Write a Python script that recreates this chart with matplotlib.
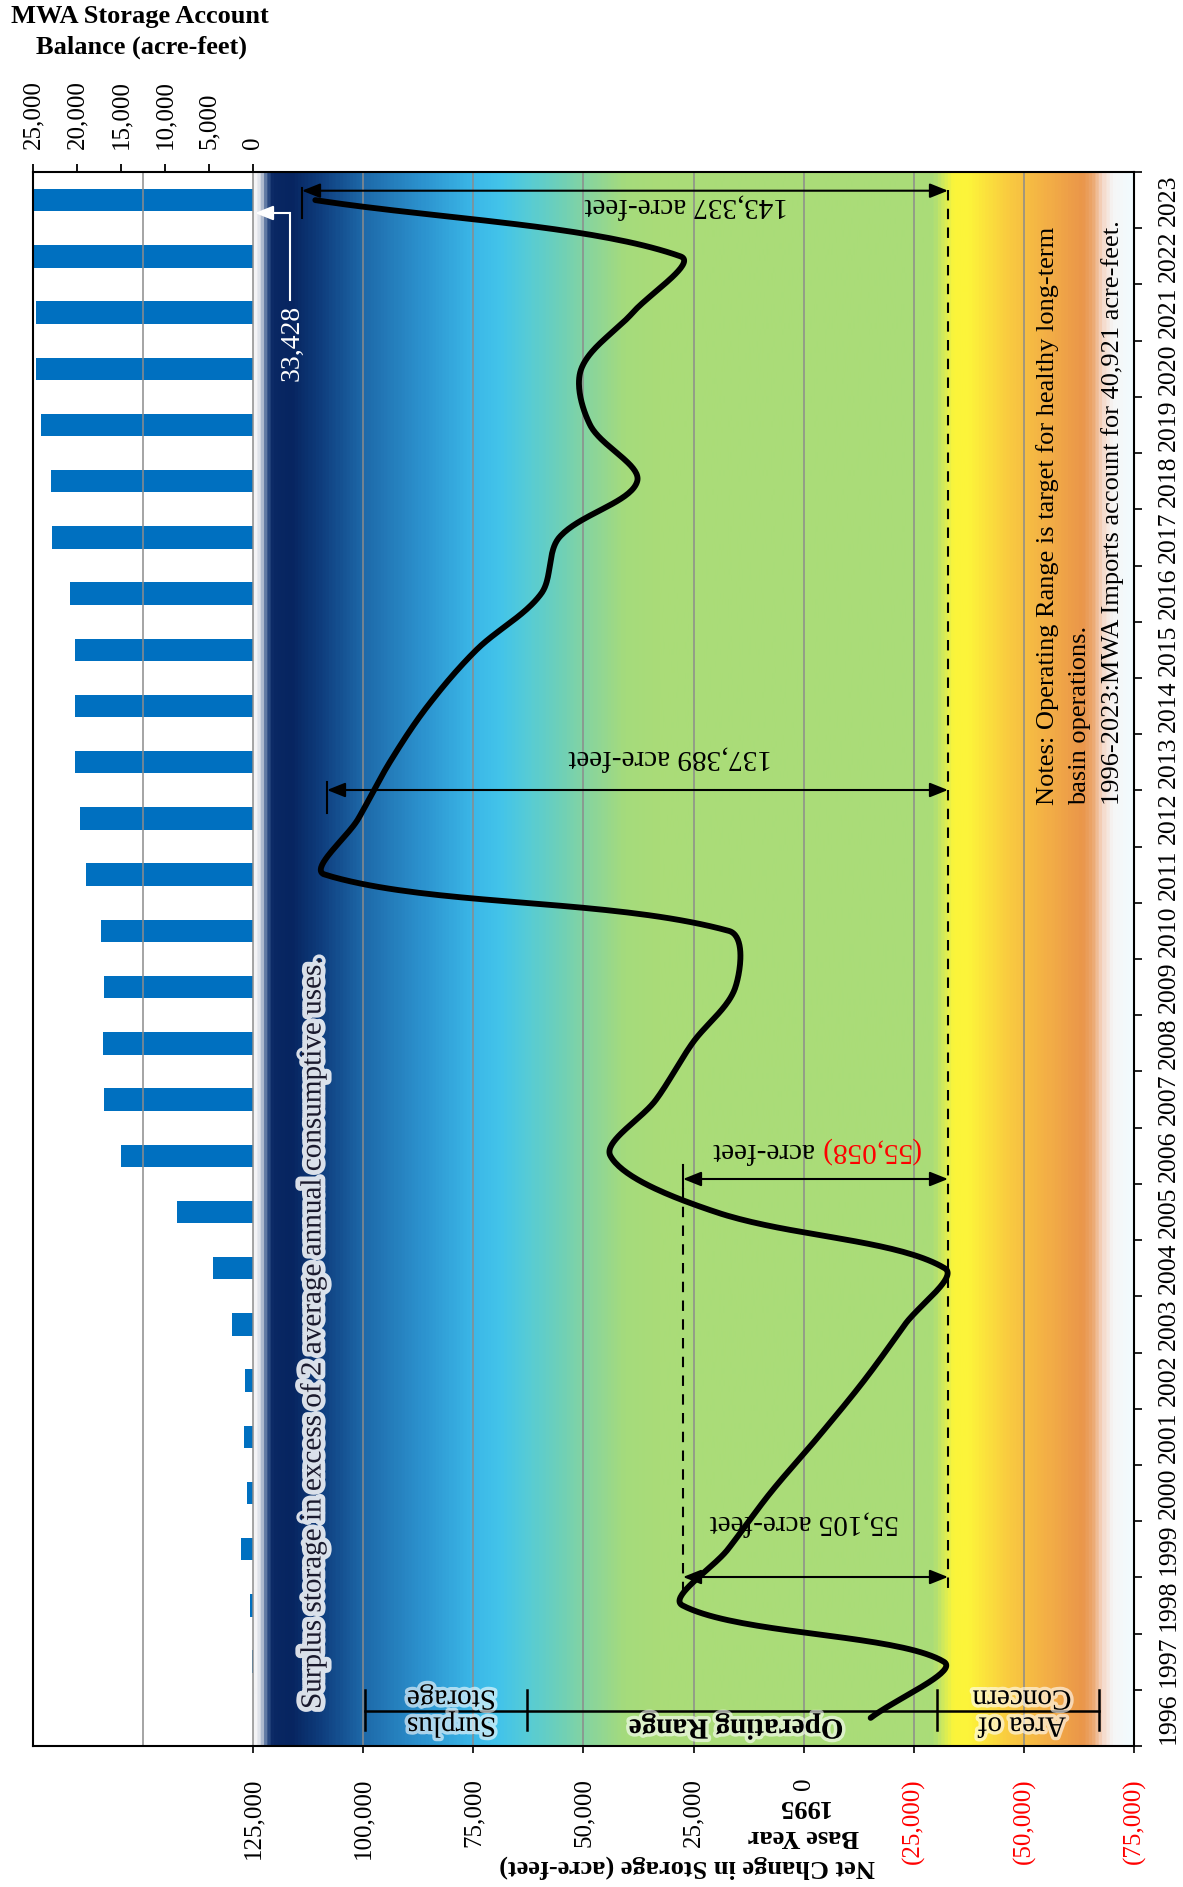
import numpy as np
import matplotlib
matplotlib.use('Agg')
import matplotlib.pyplot as plt
from matplotlib.colors import LinearSegmentedColormap
import matplotlib.patheffects as pe
from matplotlib.patches import FancyArrowPatch

plt.rcParams['font.family'] = ['Liberation Serif', 'DejaVu Serif']

# ---------------- data ----------------
years = list(range(1996, 2024))
net_change = [-15200, -31800, 27500, 17200, 7600, -3300, -13700, -23000, -32000,
              20000, 43900, 33500, 25300, 15500, 17000, 108700, 101100, 94000,
              85400, 74300, 59600, 55500, 37800, 48500, 50500, 38800, 28000, 110900]
account_balance = [0, 75, 300, 1330, 640, 985, 910, 2420, 4580, 8640, 15000, 16890,
                   17010, 16970, 17310, 19020, 19620, 20190, 20190, 20190, 20830,
                   22800, 22920, 24130, 24620, 24620, 28000, 33428]
net_ticks = [125000, 100000, 75000, 50000, 25000, 0, -25000, -50000, -75000]
net_tick_labels = ['125,000', '100,000', '75,000', '50,000', '25,000', '0',
                   '(25,000)', '(50,000)', '(75,000)']
bal_ticks = [25000, 20000, 15000, 10000, 5000, 0]
bal_tick_labels = ['25,000', '20,000', '15,000', '10,000', '5,000', '0']

# ---------------- layout helpers (pixels -> data) ----------------
W, H = 1183, 1887
AX_L, AX_R, AX_T, AX_B = 33, 1134, 172, 1746
BAR_R = 253
XMAX, XMIN = 175000, -75000
NY = len(years)


def vx(px):
    return XMAX - (px - AX_L) * (XMAX - XMIN) / (AX_R - AX_L)


def vy(py):
    return (AX_B - py) * NY / (AX_B - AX_T)


fig = plt.figure(figsize=(W / 100, H / 100), dpi=100)
fig.patch.set_facecolor('white')

rect_main = [AX_L / W, 1 - AX_B / H, (AX_R - AX_L) / W, (AX_B - AX_T) / H]
rect_bar = [AX_L / W, 1 - AX_B / H, (BAR_R - AX_L) / W, (AX_B - AX_T) / H]

axb = fig.add_axes(rect_bar, zorder=1)
ax = fig.add_axes(rect_main, zorder=2)
ax.patch.set_visible(False)

ypos = np.arange(NY) + 0.5

# ---------------- bar axes (storage account balance) ----------------
axb.barh(ypos, account_balance, height=0.4, color='#0070C0', zorder=2)
axb.set_xlim(25000, 0)
axb.set_ylim(0, NY)
axb.xaxis.set_ticks_position('top')
axb.set_xticks(bal_ticks)
axb.set_xticklabels(bal_tick_labels)
axb.tick_params(axis='x', direction='out', length=5.5, width=1.3, pad=11,
                labelsize=18, labelrotation=90)
axb.set_yticks([])
for s in axb.spines.values():
    s.set_visible(False)

# ---------------- main axes ----------------
ax.set_xlim(XMAX, XMIN)
ax.set_ylim(0, NY)

# gradient background
stops = [
    (0.000, '#F4F4F6'), (0.006, '#D5DAE4'), (0.014, '#34548A'), (0.020, '#0A2864'),
    (0.042, '#072560'), (0.076, '#0F3E7E'), (0.125, '#1E6AAA'), (0.190, '#2C92CE'),
    (0.250, '#3BB8E8'), (0.280, '#43C4EA'), (0.314, '#58CCD4'), (0.348, '#6ED0B8'),
    (0.383, '#8AD59C'), (0.422, '#A5DB7C'), (0.462, '#AADC78'), (0.774, '#AADD78'),
    (0.786, '#D6EB58'), (0.797, '#FBF53A'), (0.814, '#FDF43A'), (0.859, '#F9CB40'),
    (0.905, '#F3AE46'), (0.944, '#EA964A'), (0.956, '#ECA870'), (0.967, '#F5D8C8'),
    (0.978, '#F6F6F6'), (1.000, '#F2FBFE')]
cmap = LinearSegmentedColormap.from_list('bg', stops)
grad = np.linspace(0, 1, 800)[None, :]
ax.imshow(grad, cmap=cmap, aspect='auto', extent=[vx(BAR_R), XMIN, 0, NY],
          interpolation='bilinear', zorder=0)

for g in [150000, 125000, 100000, 75000, 50000, 25000, 0, -25000, -50000]:
    ax.axvline(g, color='#8C8C8C', lw=1.1, zorder=1)

for s in ax.spines.values():
    s.set_color('black')
    s.set_linewidth(1.5)
    s.set_zorder(10)

# x ticks (bottom)
ax.set_xticks(net_ticks)
ax.set_xticklabels(net_tick_labels)
ax.tick_params(axis='x', direction='out', length=5, width=1.2, pad=18,
               labelsize=18, labelrotation=90, top=False)
for lab, v in zip(ax.get_xticklabels(), net_ticks):
    lab.set_color('red' if v < 0 else 'black')

# y ticks (right, years)
ax.yaxis.tick_right()
ax.set_yticks(np.arange(NY + 1))
ax.set_yticklabels([])
ax.set_yticks(ypos, minor=True)
ax.set_yticklabels([str(y) for y in years], minor=True)
ax.tick_params(axis='y', which='major', direction='out', length=6, width=1.2, left=False)
ax.tick_params(axis='y', which='minor', length=0, pad=17, labelsize=18.5,
               labelrotation=90, left=False)
for lab in ax.yaxis.get_minorticklabels():
    lab.set_va('center')
    lab.set_ha('left')


# ---------------- smoothed curve (Excel-like, length-weighted) ----------------
def excel_smooth(axis, xs, ys, n=40):
    P = axis.transData.transform(np.column_stack([xs, ys]))
    N = len(P)
    out = []
    t = np.linspace(0, 1, n)[:, None]
    for i in range(N - 1):
        p0 = P[max(i - 1, 0)]
        p1 = P[i]
        p2 = P[i + 1]
        p3 = P[min(i + 2, N - 1)]
        d01 = np.hypot(*(p1 - p0))
        d12 = np.hypot(*(p2 - p1))
        d23 = np.hypot(*(p3 - p2))
        f1 = d12 / (d01 + d12) if d01 + d12 > 0 else 0
        f2 = d12 / (d12 + d23) if d12 + d23 > 0 else 0
        c1 = p1 + (p2 - p0) * f1 / 3.0
        c2 = p2 - (p3 - p1) * f2 / 3.0
        seg = (1 - t) ** 3 * p1 + 3 * (1 - t) ** 2 * t * c1 + 3 * (1 - t) * t ** 2 * c2 + t ** 3 * p2
        out.append(seg if i == 0 else seg[1:])
    return axis.transData.inverted().transform(np.vstack(out))


curve = excel_smooth(ax, net_change, ypos)
ax.plot(curve[:, 0], curve[:, 1], color='black', lw=4.2, solid_capstyle='round',
        solid_joinstyle='round', zorder=6)

# ---------------- annotations ----------------
arrow_kw = dict(arrowstyle='<|-|>,head_length=0.55,head_width=0.22', mutation_scale=20,
                color='black', lw=1.5, shrinkA=0, shrinkB=0, zorder=5)
x_right = vx(948)
x_mid = vx(683)


def dbl_arrow(x0, x1, yy):
    ax.add_patch(FancyArrowPatch((x0, yy), (x1, yy), **arrow_kw))


# 143,337
dbl_arrow(vx(302), x_right, vy(190.7))
ax.plot([vx(302), vx(302)], [vy(188), vy(218)], color='black', lw=1.5, zorder=5)
# 137,389
dbl_arrow(vx(327), x_right, vy(790))
ax.plot([vx(327), vx(327)], [vy(782), vy(813)], color='black', lw=1.5, zorder=5)
# (55,058)
dbl_arrow(x_mid, x_right, vy(1179))
ax.plot([x_mid, x_mid], [vy(1165), vy(1188)], color='black', lw=1.5, zorder=5)
# 55,105
dbl_arrow(x_mid, x_right, vy(1577))
# dashed reference lines
ax.plot([x_right, x_right], [vy(190), vy(1592)], color='black', lw=1.5,
        linestyle=(0, (5, 4)), zorder=5)
ax.plot([x_mid, x_mid], [vy(1188), vy(1592)], color='black', lw=1.5,
        linestyle=(0, (5, 4)), zorder=5)

txt_kw = dict(rotation=180, rotation_mode='anchor', ha='center', va='center',
              fontsize=21, zorder=7)
ax.text(vx(686), vy(205), '143,337 acre-feet', **txt_kw)
ax.text(vx(670), vy(757), '137,389 acre-feet', **txt_kw)
ax.text(vx(804), vy(1522), '55,105 acre-feet', **txt_kw)
ax.text(vx(920), vy(1150), '(55,058)', rotation=180, rotation_mode='anchor',
        ha='left', va='center', fontsize=21, color='red', zorder=7)
ax.text(vx(813), vy(1150), 'acre-feet', rotation=180, rotation_mode='anchor',
        ha='left', va='center', fontsize=21, color='black', zorder=7)

# white arrow to account balance
ax.plot([vx(290), vx(290)], [vy(300), vy(213)], color='white', lw=1.5, zorder=7)
ax.add_patch(FancyArrowPatch((vx(290), vy(213)), (vx(255), vy(213)),
                             arrowstyle='-|>,head_length=0.55,head_width=0.22',
                             mutation_scale=20, color='white', lw=1.5,
                             shrinkA=0, shrinkB=0, zorder=7))
ax.text(vx(292), vy(343), '33,428', rotation=90, rotation_mode='anchor', ha='center',
        va='center', fontsize=20, color='white', zorder=7)

glow = [pe.withStroke(linewidth=5, foreground='white', alpha=0.6)]
glow_big = [pe.withStroke(linewidth=7, foreground='white', alpha=0.85)]
ax.text(vx(313), vy(1709), 'Surplus storage in excess of 2 average annual consumptive uses.',
        rotation=90, rotation_mode='anchor', ha='left', va='center', fontsize=21,
        color='#1A1A2E', path_effects=glow_big, zorder=7)

# range brackets
yb = vy(1711)
ax.plot([vx(365), vx(1099)], [yb, yb], color='black', lw=1.8, zorder=5)
for px in [365, 527.5, 937, 1099]:
    ax.plot([vx(px), vx(px)], [vy(1690), vy(1730)], color='black', lw=1.8, zorder=5)
ax.text(vx(451.6), yb, 'Surplus\nStorage', rotation=180, rotation_mode='anchor',
        ha='center', va='center', fontsize=21, linespacing=1.05,
        path_effects=glow, zorder=7)
ax.text(vx(1022), yb, 'Area of\nConcern', rotation=180, rotation_mode='anchor',
        ha='center', va='center', fontsize=21, linespacing=1.05,
        path_effects=glow, zorder=7)
ax.text(vx(736.5), vy(1727), 'Operating Range', rotation=180, rotation_mode='anchor',
        ha='center', va='center', fontsize=21, fontweight='bold',
        path_effects=glow, zorder=7)

# notes
note_kw = dict(rotation=90, rotation_mode='anchor', ha='left', va='center',
               fontsize=19, zorder=7)
ax.text(vx(1048), vy(805), 'Notes: Operating Range is target for healthy long-term', **note_kw)
ax.text(vx(1080), vy(805), 'basin operations.', **note_kw)
ax.text(vx(1113), vy(805), '1996-2023:MWA Imports account for 40,921 acre-feet.', **note_kw)

# ---------------- figure-level titles ----------------
fig.text(140 / W, 1 - 17 / H, 'MWA Storage Account', ha='center', va='center',
         fontsize=19, fontweight='bold')
fig.text(141 / W, 1 - 47 / H, 'Balance (acre-feet)', ha='center', va='center',
         fontsize=19, fontweight='bold')
fig.text(687.5 / W, 1 - 1867 / H, 'Net Change in Storage (acre-feet)', ha='center',
         va='center', rotation=180, rotation_mode='anchor', fontsize=19, fontweight='bold')
fig.text(803.5 / W, 1 - 1837 / H, 'Base Year', ha='center', va='center', rotation=180,
         rotation_mode='anchor', fontsize=19, fontweight='bold')
fig.text(802 / W, 1 - 1807 / H, '1995', ha='center', va='center', rotation=180,
         rotation_mode='anchor', fontsize=19, fontweight='bold')

fig.savefig('out.png', dpi=100)
